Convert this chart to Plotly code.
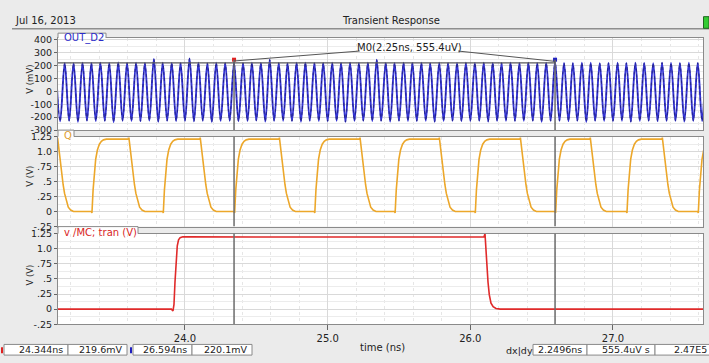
import plotly.graph_objects as go

W, H = 709, 363

# ---------------- data ----------------
# OUT_D2 (mV): extrema (peaks and troughs, ns)
out_peak_t = [
    23.094, 23.157, 23.219, 23.282, 23.344, 23.407, 23.469, 23.532,
    23.594, 23.657, 23.719, 23.782, 23.844, 23.907, 23.969, 24.032,
    24.094, 24.157, 24.219, 24.282, 24.344, 24.407, 24.469, 24.532,
    24.594, 24.657, 24.719, 24.782, 24.844, 24.907, 24.969, 25.032,
    25.094, 25.157, 25.219, 25.282, 25.344, 25.407, 25.469, 25.532,
    25.594, 25.657, 25.719, 25.782, 25.844, 25.907, 25.969, 26.032,
    26.094, 26.157, 26.219, 26.282, 26.344, 26.407, 26.469, 26.532,
    26.594, 26.657, 26.719, 26.782, 26.844, 26.907, 26.969, 27.032,
    27.094, 27.157, 27.219, 27.282, 27.344, 27.407, 27.469, 27.532,
    27.594, 27.657]
out_peak_mv = [
    222, 220, 218, 221, 219, 222, 220, 223,
    219, 221, 220, 250, 222, 220, 219, 255,
    221, 218, 222, 220, 222, 219, 221, 220,
    245, 220, 218, 221, 222, 219, 220, 221,
    219, 222, 220, 221, 245, 220, 219, 222,
    220, 221, 218, 222, 220, 219, 221, 220,
    222, 219, 220, 221, 219, 222, 220, 221,
    232, 220, 219, 222, 221, 218, 220, 222,
    219, 221, 220, 218, 222, 220, 219, 221,
    220, 222]
out_trough_t = [
    23.125, 23.188, 23.250, 23.313, 23.375, 23.438, 23.500, 23.563,
    23.625, 23.688, 23.750, 23.813, 23.875, 23.938, 24.000, 24.063,
    24.125, 24.188, 24.250, 24.313, 24.375, 24.438, 24.500, 24.563,
    24.625, 24.688, 24.750, 24.813, 24.875, 24.938, 25.000, 25.063,
    25.125, 25.188, 25.250, 25.313, 25.375, 25.438, 25.500, 25.563,
    25.625, 25.688, 25.750, 25.813, 25.875, 25.938, 26.000, 26.063,
    26.125, 26.188, 26.250, 26.313, 26.375, 26.438, 26.500, 26.563,
    26.625, 26.688, 26.750, 26.813, 26.875, 26.938, 27.000, 27.063,
    27.125, 27.188, 27.250, 27.313, 27.375, 27.438, 27.500, 27.563,
    27.625, 27.688]
out_trough_mv = [
    -232, -228, -236, -227, -230, -229, -238, -228,
    -229, -231, -227, -236, -228, -230, -229, -233,
    -228, -237, -229, -228, -231, -229, -227, -235,
    -229, -228, -230, -236, -228, -229, -231, -228,
    -237, -229, -228, -230, -229, -235, -228, -229,
    -230, -228, -236, -229, -228, -231, -229, -228,
    -235, -229, -228, -230, -229, -228, -236, -229,
    -228, -231, -229, -237, -228, -229, -230, -228,
    -236, -229, -228, -231, -229, -228, -235, -229,
    -230, -228]

# Q (V): edge times (ns) and levels
q_fall_t = [23.104, 23.604, 24.104, 24.659, 25.224, 25.780, 26.348, 26.838, 27.343]
q_rise_t = [23.344, 23.844, 24.344, 24.906, 25.469, 26.031, 26.594, 27.094, 27.594]
q_high, q_low = 1.21, 0.0
# edge shapes (offset ns, fraction of swing)
fall_dt = [0.0, 0.003, 0.012, 0.022, 0.032, 0.042, 0.052, 0.064, 0.078, 0.095, 0.115]
fall_fr = [1.0, 1.02, 0.86, 0.68, 0.52, 0.37, 0.25, 0.14, 0.06, 0.02, 0.0]
rise_dt = [0.0, 0.004, 0.012, 0.02, 0.03, 0.042, 0.056, 0.07, 0.085, 0.105]
rise_fr = [0.0, -0.02, 0.3, 0.55, 0.72, 0.85, 0.93, 0.97, 0.99, 1.0]

# v /MC; tran (V)
mc_t = [23.0, 23.905, 23.916, 23.923, 23.930, 23.938, 23.946, 23.955, 23.966, 23.985, 24.01,
        24.6, 25.4, 26.096, 26.103, 26.109, 26.116, 26.124, 26.133, 26.145, 26.16, 26.18, 26.21, 27.7]
mc_v = [0.0, 0.0, -0.03, 0.08, 0.45, 0.82, 1.05, 1.15, 1.185, 1.198, 1.2,
        1.195, 1.2, 1.2, 1.25, 1.08, 0.75, 0.45, 0.24, 0.1, 0.04, 0.01, 0.0, 0.0]

cursor_a, cursor_b = 24.344, 26.594
cursor_level_mv = 220
y1_ticks = [-300, -200, -100, 0, 100, 200, 300, 400]
y23_ticks = [-0.25, 0, 0.25, 0.5, 0.75, 1.0, 1.25]
y23_text = ["-.25", "0", ".25", ".5", ".75", "1.0", "1.25"]

# ---------------- build traces ----------------
ext = sorted(zip(out_peak_t + out_trough_t, out_peak_mv + out_trough_mv))
out_t = [e[0] for e in ext]
out_v = [e[1] for e in ext]

events = sorted([(t, "f") for t in q_fall_t] + [(t, "r") for t in q_rise_t])
q_t, q_v = [23.0], [q_high]
for t, kind in events:
    if kind == "f":
        for d, f in zip(fall_dt, fall_fr):
            q_t.append(t + d); q_v.append(q_low + (q_high - q_low) * f)
    else:
        for d, f in zip(rise_dt, rise_fr):
            q_t.append(t + d); q_v.append(q_low + (q_high - q_low) * f)
q_t.append(27.8); q_v.append(q_high)


def px(x):
    return x / W


def py(y):
    return 1 - y / H


FONT = "DejaVu Sans"
fig = go.Figure()
fig.add_trace(go.Scatter(x=out_t, y=out_v, mode="lines", line=dict(color="#3434d4", width=1.9, shape="spline"),
                         xaxis="x", yaxis="y", hoverinfo="skip"))
fig.add_trace(go.Scatter(x=out_t, y=out_v, mode="lines",
                         line=dict(color="#1e1e78", width=0.8, shape="spline", dash="dot"),
                         xaxis="x", yaxis="y", hoverinfo="skip"))
fig.add_trace(go.Scatter(x=q_t, y=q_v, mode="lines", line=dict(color="#eca72a", width=1.6),
                         xaxis="x2", yaxis="y2", hoverinfo="skip"))
fig.add_trace(go.Scatter(x=mc_t, y=mc_v, mode="lines", line=dict(color="#e02a2a", width=1.6),
                         xaxis="x3", yaxis="y3", hoverinfo="skip"))
# cursor markers
fig.add_trace(go.Scatter(x=[cursor_a], y=[245], mode="markers",
                         marker=dict(color="#e02020", size=4, symbol="square"), xaxis="x", yaxis="y"))
fig.add_trace(go.Scatter(x=[cursor_b], y=[245], mode="markers",
                         marker=dict(color="#2020c0", size=4, symbol="square"), xaxis="x", yaxis="y"))

XR = [23.110, 27.631]
grid = dict(showgrid=True, gridcolor="#d9d9d9", gridwidth=1)
frame = dict(showline=True, mirror=True, linecolor="#8a8a8a", linewidth=1, zeroline=False)
xcommon = dict(range=XR, domain=[px(58), px(703)], tick0=24, dtick=1, **grid, **frame,
               minor=dict(tick0=24, dtick=0.2, showgrid=True, gridcolor="#e6e6e6", griddash="dot"))
ycommon = dict(ticks="outside", ticklen=3, tickcolor="#666", **grid, **frame,
               tickfont=dict(family=FONT, size=9.5, color="#222"))

layout = dict(
    width=W, height=H, margin=dict(l=0, r=0, t=0, b=0),
    paper_bgcolor="#ebebeb", plot_bgcolor="#ffffff", showlegend=False,
    font=dict(family=FONT, size=10, color="#222"),
    xaxis=dict(anchor="y", showticklabels=False, **xcommon),
    xaxis2=dict(anchor="y2", showticklabels=False, **xcommon),
    xaxis3=dict(anchor="y3", showticklabels=True, ticks="outside", ticklen=5, tickcolor="#666",
                tickformat=".1f", tickfont=dict(family=FONT, size=10, color="#222"), **xcommon),
    yaxis=dict(anchor="x", domain=[py(128), py(33)], range=[-300.5, 413], tickmode="array",
               tickvals=y1_ticks, ticktext=[str(v) for v in y1_ticks],
               minor=dict(tickmode="linear", tick0=0, dtick=50, showgrid=True, gridcolor="#ececec"), **ycommon),
    yaxis2=dict(anchor="x2", domain=[py(227.5), py(134.7)], range=[-0.252, 1.252], tickmode="array",
                tickvals=y23_ticks, ticktext=y23_text,
                minor=dict(tickmode="linear", tick0=0, dtick=0.125, showgrid=True, gridcolor="#ececec"), **ycommon),
    yaxis3=dict(anchor="x3", domain=[py(328.3), py(234.7)], range=[-0.252, 1.252], tickmode="array",
                tickvals=y23_ticks, ticktext=y23_text,
                minor=dict(tickmode="linear", tick0=0, dtick=0.125, showgrid=True, gridcolor="#ececec"), **ycommon),
)
fig.update_layout(**layout)

shapes = []
CUR = dict(color="#6b6b6b", width=1.5)
# cursor lines
shapes.append(dict(type="line", xref="x", yref="y", x0=cursor_a, x1=cursor_a, y0=245, y1=-300.5, line=CUR))
shapes.append(dict(type="line", xref="x", yref="y", x0=cursor_b, x1=cursor_b, y0=245, y1=-300.5, line=CUR))
for xr, yr in (("x2", "y2"), ("x3", "y3")):
    for c in (cursor_a, cursor_b):
        shapes.append(dict(type="line", xref=xr, yref=yr, x0=c, x1=c, y0=-0.252, y1=1.252, line=CUR))
# horizontal cursor level
shapes.append(dict(type="line", xref="x", yref="y", x0=XR[0], x1=cursor_b, y0=cursor_level_mv, y1=cursor_level_mv,
                   line=dict(color="#5a5a5a", width=1.2)))
# M0 leader lines
shapes.append(dict(type="line", xref="x", yref="y", x0=cursor_a, y0=235, x1=25.225, y1=312,
                   line=dict(color="#555", width=1)))
shapes.append(dict(type="line", xref="x", yref="y", x0=25.915, y0=312, x1=cursor_b, y1=232,
                   line=dict(color="#555", width=1)))

# title separator
shapes.append(dict(type="line", xref="paper", yref="paper", x0=px(12), x1=1, y0=py(23.5), y1=py(23.5),
                   line=dict(color="#8e8e8e", width=1.5)))
shapes.append(dict(type="rect", xref="paper", yref="paper", x0=px(703.5), x1=px(709), y0=py(23), y1=py(11),
                   fillcolor="#33cc33", line=dict(color="#226622", width=1)))

# tabs
for (x0, x1, y0, y1) in ((58, 106, 28, 33), (58, 74, 128, 134.7), (58, 138, 227.5, 234.7)):
    shapes.append(dict(type="rect", xref="paper", yref="paper", x0=px(x0), x1=px(x1), y0=py(y1 + 0.8), y1=py(y0),
                       fillcolor="#ffffff", line=dict(width=0)))
    shapes.append(dict(type="path", xref="paper", yref="paper",
                       path=f"M {px(x0)},{py(y1)} L {px(x0)},{py(y0)} L {px(x1)},{py(y0)} L {px(x1)},{py(y1)}",
                       line=dict(color="#8a8a8a", width=1)))

# readout boxes
boxes = [(4, 68, "24.344ns"), (68, 127, "219.6mV"), (133, 192, "26.594ns"), (192, 252, "220.1mV"),
         (533, 587, "2.2496ns"), (587, 655, "555.4uV s"), (655, 712, "2.47E5")]
for x0, x1, _ in boxes:
    shapes.append(dict(type="rect", xref="paper", yref="paper", x0=px(x0), x1=px(x1), y0=py(360), y1=py(349),
                       fillcolor="#ffffff", line=dict(color="#8a8a8a", width=1)))
shapes.append(dict(type="rect", xref="paper", yref="paper", x0=px(1), x1=px(3), y0=py(358), y1=py(352),
                   fillcolor="#e02020", line=dict(width=0)))
shapes.append(dict(type="rect", xref="paper", yref="paper", x0=px(130), x1=px(132), y0=py(358), y1=py(352),
                   fillcolor="#2020c0", line=dict(width=0)))
fig.update_layout(shapes=shapes)

ann = []


def text(x, y, s, size=10, color="#222", xanchor="center", angle=0):
    ann.append(dict(x=px(x), y=py(y), xref="paper", yref="paper", text=s, showarrow=False, xanchor=xanchor,
                    yanchor="middle", textangle=angle, font=dict(family=FONT, size=size, color=color)))


text(13, 15, "Jul 16, 2013", 10, "#222", "left")
text(391, 15, "Transient Response", 10, "#222")
text(62, 33, "OUT_D2", 10, "#2b2bc8", "left")
text(62, 133.5, "Q", 10, "#e0a030", "left")
text(62, 233.5, "v /MC; tran (V)", 10, "#d82424", "left")
text(30, 75, "V (mV)", 8.5, "#222", angle=-90)
text(30, 175, "V (V)", 8.5, "#222", angle=-90)
text(30, 277, "V (V)", 8.5, "#222", angle=-90)
text(409, 43, "M0(2.25ns, 555.4uV)", 10, "#222")
text(382, 352, "time (ns)", 10, "#222")
text(519, 355, "dx|dy", 9.5, "#222")
for x0, x1, s in boxes:
    text(x1 - 3, 354.5, s, 9.5, "#222", "right")
fig.update_layout(annotations=ann)

fig.write_html("out.html")
